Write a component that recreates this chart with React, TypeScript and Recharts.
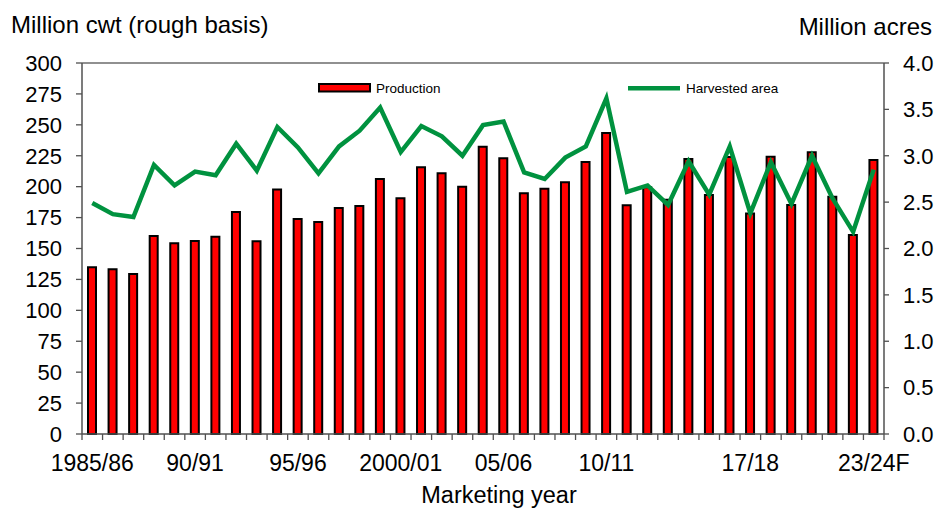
import React from 'react';
import { ComposedChart, Bar, Line, XAxis, YAxis, ReferenceLine } from 'recharts';

const categories = [
  '1985/86', '86/87', '87/88', '88/89', '89/90', '90/91', '91/92', '92/93', '93/94', '94/95',
  '95/96', '96/97', '97/98', '98/99', '99/2000', '2000/01', '01/02', '02/03', '03/04', '04/05',
  '05/06', '06/07', '07/08', '08/09', '09/10', '10/11', '11/12', '12/13', '13/14', '14/15',
  '15/16', '16/17', '17/18', '18/19', '19/20', '20/21', '21/22', '22/23', '23/24F',
];

const production = [
  134.8, 133.2, 129.4, 160.1, 154.2, 156.1, 159.6, 179.5, 155.8, 197.8,
  173.8, 171.4, 182.7, 184.4, 206.2, 190.6, 215.6, 210.8, 200.0, 232.3,
  222.9, 194.6, 198.4, 203.5, 219.9, 243.4, 184.9, 199.5, 189.5, 222.4,
  193.3, 224.0, 178.4, 224.2, 185.2, 227.8, 191.9, 160.9, 221.6,
];

const harvestedArea = [
  2.49, 2.37, 2.34, 2.90, 2.68, 2.83, 2.79, 3.13, 2.84, 3.31,
  3.09, 2.81, 3.10, 3.27, 3.52, 3.04, 3.32, 3.21, 3.00, 3.33,
  3.37, 2.82, 2.75, 2.98, 3.10, 3.62, 2.61, 2.68, 2.47, 2.94,
  2.58, 3.10, 2.38, 2.93, 2.48, 3.00, 2.54, 2.18, 2.85,
];

const shownLabels = ['1985/86', '90/91', '95/96', '2000/01', '05/06', '10/11', '17/18', '23/24F'];
const leftTicks = [0, 25, 50, 75, 100, 125, 150, 175, 200, 225, 250, 275, 300];
const rightTicks = [0, 0.5, 1, 1.5, 2, 2.5, 3, 3.5, 4];

const leftTitle = 'Million cwt (rough basis)';
const rightTitle = 'Million acres';
const xTitle = 'Marketing year';
const productionName = 'Production';
const areaName = 'Harvested area';

const data = categories.map((c, i) => ({ year: c, production: production[i], area: harvestedArea[i] }));

const FONT = 'Liberation Sans, Arial, sans-serif';
const AXIS = '#505050';
const RED = '#FF0000';
const GREEN = '#00923F';

const XTick = (props: any) => {
  const { x, y, payload, index } = props;
  const half = payload && typeof payload.offset === 'number' && payload.offset > 0 ? payload.offset : 10.27;
  const isLast = index === categories.length - 1;
  const show = shownLabels.includes(payload.value);
  return (
    <g>
      <line x1={x - half} x2={x - half} y1={y} y2={y + 6} stroke={AXIS} strokeWidth={1.3} />
      {isLast && <line x1={x + half} x2={x + half} y1={y} y2={y + 6} stroke={AXIS} strokeWidth={1.3} />}
      {show && (
        <text x={x} y={y + 37} textAnchor="middle" fontSize={23} fill="#000" fontFamily={FONT}>
          {payload.value}
        </text>
      )}
    </g>
  );
};

export default function App() {
  return (
    <div style={{ position: 'absolute', left: 0, top: 0, width: 938, height: 508, background: '#fff' }}>
      <ComposedChart
        width={938}
        height={508}
        data={data}
        margin={{ top: 63, right: 0, bottom: 0, left: 0 }}
        barCategoryGap={0}
        style={{ fontFamily: FONT }}
      >
        <XAxis
          dataKey="year"
          xAxisId="x"
          interval={0}
          height={74}
          tickSize={0}
          tickMargin={0}
          tickLine={false}
          axisLine={{ stroke: AXIS, strokeWidth: 1.5 }}
          tick={<XTick />}
        />
        <YAxis
          yAxisId="left"
          orientation="left"
          width={82}
          domain={[0, 300]}
          ticks={leftTicks}
          interval={0}
          tickSize={6}
          tickMargin={14}
          axisLine={{ stroke: AXIS, strokeWidth: 1.5 }}
          tickLine={{ stroke: AXIS, strokeWidth: 1.3 }}
          tick={{ fontSize: 22, fill: '#000', fontFamily: FONT }}
        />
        <YAxis
          yAxisId="right"
          orientation="right"
          width={54}
          domain={[0, 4]}
          ticks={rightTicks}
          interval={0}
          tickSize={5}
          tickMargin={14}
          axisLine={{ stroke: AXIS, strokeWidth: 1.5 }}
          tickLine={{ stroke: AXIS, strokeWidth: 1.3 }}
          tickFormatter={(v: number) => v.toFixed(1)}
          tick={{ fontSize: 22, fill: '#000', fontFamily: FONT }}
        />
        <ReferenceLine yAxisId="left" xAxisId="x" y={300} stroke="#909090" strokeWidth={2} />
        <Bar
          xAxisId="x"
          yAxisId="left"
          dataKey="production"
          name={productionName}
          fill={RED}
          stroke="#000"
          strokeWidth={2}
          barSize={8}
          isAnimationActive={false}
        />
        <Line
          xAxisId="x"
          yAxisId="right"
          dataKey="area"
          name={areaName}
          type="linear"
          stroke={GREEN}
          strokeWidth={4.5}
          dot={false}
          activeDot={false}
          strokeLinejoin="miter"
          isAnimationActive={false}
        />
      </ComposedChart>
      <svg
        width={938}
        height={508}
        style={{ position: 'absolute', left: 0, top: 0, pointerEvents: 'none' }}
        fontFamily={FONT}
      >
        <text x={11} y={33} fontSize={24} fill="#000">{leftTitle}</text>
        <text x={932} y={35} fontSize={24} fill="#000" textAnchor="end">{rightTitle}</text>
        <text x={499} y={503} fontSize={23.5} fill="#000" textAnchor="middle">{xTitle}</text>
        <rect x={319} y={84} width={51} height={7.5} fill={RED} stroke="#000" strokeWidth={2} />
        <text x={376} y={93} fontSize={13.5} fill="#000">{productionName}</text>
        <line x1={628} x2={680} y1={88.3} y2={88.3} stroke={GREEN} strokeWidth={4.5} />
        <text x={686} y={93} fontSize={13.5} fill="#000">{areaName}</text>
      </svg>
    </div>
  );
}
